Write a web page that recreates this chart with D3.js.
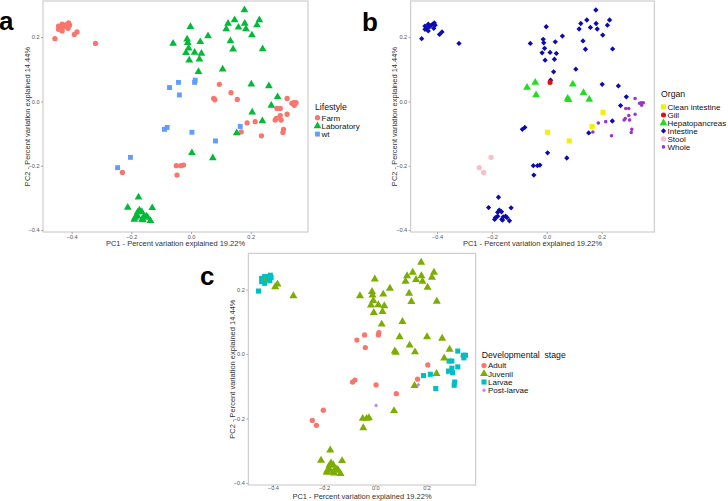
<!DOCTYPE html>
<html><head><meta charset="utf-8">
<script src="https://cdn.jsdelivr.net/npm/d3@7"></script>
<style>body{margin:0;background:#fff}svg{display:block;font-family:Arial,"Liberation Sans",sans-serif}</style>
</head><body><svg width="728" height="501"></svg>
<script>
// ---------- DATA (PCA scores, same samples in all three panels) ----------
const pc1 = [
  // Farm, top-left cluster
  -0.456,-0.444,-0.438,-0.432,-0.427,-0.421,-0.415,-0.410,-0.407,-0.412,-0.432,-0.444,-0.391,-0.382,-0.320,
  // Farm, hepatopancreas
  0.095,0.134,0.076,0.080,0.155,
  // Farm, lower middle
  -0.049,-0.034,-0.025,-0.047,
  // Farm, stool
  -0.230,
  // Farm, right cluster (whole)
  0.322,0.338,0.346,0.352,0.344,0.288,0.299,0.322,0.299,0.282,0.286,0.302,0.188,0.215,0.168,0.236,0.310,0.308,
  // Laboratory, upper group
  0.179,0.146,0.124,0.118,0.159,0.180,0.184,0.229,0.221,0.204,0.132,0.141,0.240,0.057,-0.002,-0.013,-0.011,-0.060,0.031,-0.008,-0.017,0.012,0.035,-0.006,0.028,0.025,0.106,
  // Laboratory, middle
  0.202,0.261,0.290,0.269,0.205,0.239,0.153,0.003,0.073,
  // Laboratory, bottom cluster
  -0.176,-0.212,-0.130,-0.173,-0.165,-0.179,-0.179,-0.187,-0.190,-0.164,-0.159,-0.150,-0.145,-0.136,-0.161,
  // wt
  -0.072,-0.042,-0.039,0.014,0.012,-0.089,-0.080,0.003,0.082,0.165,-0.203,-0.246
];
const pc2 = [
  0.195,0.234,0.227,0.240,0.232,0.237,0.240,0.244,0.237,0.227,0.219,0.224,0.208,0.216,0.180,
  0.053,0.027,0.009,0.005,0.006,
  -0.200,-0.200,-0.198,-0.229,
  -0.221,
  0.009,-0.006,-0.012,-0.004,-0.004,-0.022,-0.022,-0.040,-0.044,-0.058,-0.053,-0.058,-0.067,-0.063,-0.095,-0.107,-0.087,-0.097,
  0.284,0.253,0.242,0.225,0.230,0.242,0.225,0.253,0.237,0.206,0.188,0.162,0.163,0.203,0.232,0.193,0.182,0.180,0.185,0.165,0.151,0.152,0.149,0.128,0.131,0.092,0.100,
  0.053,0.048,0.014,-0.013,-0.034,-0.061,-0.098,-0.160,-0.176,
  -0.298,-0.330,-0.331,-0.338,-0.343,-0.345,-0.357,-0.361,-0.367,-0.367,-0.359,-0.357,-0.361,-0.371,-0.369,
  0.043,0.059,0.020,0.066,0.059,-0.087,-0.081,-0.096,-0.123,-0.078,-0.174,-0.206
];
const F="Farm", LB="Laboratory", W="wt";
const lifestyle = [
  F,F,F,F,F,F,F,F,F,F,F,F,F,F,F,
  F,F,F,F,F,
  F,F,F,F,
  F,
  F,F,F,F,F,F,F,F,F,F,F,F,F,F,F,F,F,F,
  LB,LB,LB,LB,LB,LB,LB,LB,LB,LB,LB,LB,LB,LB,LB,LB,LB,LB,LB,LB,LB,LB,LB,LB,LB,LB,LB,
  LB,LB,LB,LB,LB,LB,LB,LB,LB,
  LB,LB,LB,LB,LB,LB,LB,LB,LB,LB,LB,LB,LB,LB,LB,
  W,W,W,W,W,W,W,W,W,W,W,W
];
const CI="Clean intestine", GI="Gill", HE="Hepatopancreas", IN="Intestine", ST="Stool", WH="Whole";
const organ = [
  IN,IN,IN,IN,IN,IN,IN,IN,IN,IN,IN,IN,IN,IN,IN,
  HE,HE,HE,HE,HE,
  IN,IN,IN,IN,
  ST,
  WH,WH,WH,WH,WH,WH,WH,WH,WH,WH,WH,WH,WH,WH,WH,WH,WH,WH,
  IN,IN,IN,IN,IN,IN,IN,IN,IN,IN,IN,IN,IN,IN,IN,IN,IN,IN,IN,IN,IN,IN,IN,IN,IN,IN,IN,
  IN,IN,IN,IN,CI,IN,IN,IN,IN,
  IN,IN,IN,IN,IN,IN,IN,IN,IN,IN,IN,IN,IN,IN,IN,
  HE,HE,HE,IN,GI,IN,IN,CI,CI,CI,ST,ST
];
const A="Adult", J="Juvenil", L="Larvae", P="Post-larvae";
const stage = [
  L,L,L,L,J,L,L,L,L,L,L,L,J,J,J,
  J,J,J,J,J,
  J,J,J,J,
  A,
  L,P,L,L,L,L,L,L,L,P,L,L,L,L,P,L,L,L,
  J,J,J,J,J,J,J,J,J,J,J,J,J,J,J,J,J,J,J,J,J,J,J,J,J,J,J,
  J,J,J,J,A,J,J,P,J,
  J,J,J,J,J,J,J,J,J,J,J,J,J,J,J,
  A,A,A,A,A,A,A,A,A,A,A,A
];
const lifestyleCats = ["Farm","Laboratory","wt"];
const organCats = ["Clean intestine","Gill","Hepatopancreas","Intestine","Stool","Whole"];
const stageCats = ["Adult","Juvenil","Larvae","Post-larvae"];
const xTicks = [-0.4,-0.2,0.0,0.2];
const yTicks = [-0.4,-0.2,0.0,0.2];
const xTitle = "PC1 - Percent variation explained 19.22%";
const yTitle = "PC2 - Percent variation explained 14.44%";

// ---------- STYLE ----------
const svg = d3.select("svg");
const xDom = [-0.496, 0.392], yDom = [-0.406, 0.312];

function symPath(shape, size){
  if(shape==="triangle") return d3.symbol(d3.symbolTriangle, size)();
  if(shape==="square" || shape==="diamond") return d3.symbol(d3.symbolSquare, size)();
  return d3.symbol(d3.symbolCircle, size)();
}
function symRot(shape){ return shape==="diamond" ? " rotate(45)" : ""; }

const panels = [
  { key: lifestyle, cats: lifestyleCats, title: "Lifestyle", letter: "a",
    colors: ["#F8766D","#00BA38","#619CFF"],
    shapes: ["circle","triangle","square"], sizes: [22,26,24],
    xr: [43,308], yr: [232,1], letterPos: [-1,30], yTitleX: 29.5, xTitleY: 246.3, xTickY: 238.6,
    leg: {x: 315, titleY: 109.5, y0: 120.5, dy: 8.2, symX: 317.5, textX: 321.5} },
  { key: organ, cats: organCats, title: "Organ", letter: "b",
    colors: ["#F2F200","#E01010","#22DD22","#0B0BB0","#F8C0CB","#9A35CC"],
    shapes: ["square","circle","triangle","diamond","circle","circle"], sizes: [26,20,26,14,22,10],
    xr: [410.7,654.3], yr: [232,1], letterPos: [362,30.5], yTitleX: 397, xTitleY: 246.3, xTickY: 238.6,
    leg: {x: 661, titleY: 97, y0: 109.7, dy: 8, symX: 663.5, textX: 667.5} },
  { key: stage, cats: stageCats, title: "Developmental  stage", letter: "c",
    colors: ["#F8766D","#7CAE00","#00BFC4","#C77CFF"],
    shapes: ["circle","triangle","square","diamond"], sizes: [22,28,26,8],
    xr: [248.3,475.7], yr: [485,253.3], letterPos: [200,285], yTitleX: 235, xTitleY: 499, xTickY: 490.3,
    leg: {x: 481.7, titleY: 357.5, y0: 368.4, dy: 8.2, symX: 484, textX: 488} }
];

panels.forEach(p => {
  const x = d3.scaleLinear().domain(xDom).range(p.xr);
  const y = d3.scaleLinear().domain(yDom).range(p.yr);
  const color = d3.scaleOrdinal().domain(p.cats).range(p.colors);
  const g = svg.append("g");

  // panel border
  g.append("rect").attr("x", p.xr[0]).attr("y", p.yr[1])
    .attr("width", p.xr[1]-p.xr[0]).attr("height", p.yr[0]-p.yr[1])
    .attr("fill","#fff").attr("stroke","#c4c4c4").attr("stroke-width",1);

  // axes
  const xa = g.append("g").attr("transform",`translate(0,${p.yr[0]})`)
    .call(d3.axisBottom(x).tickValues(xTicks).tickFormat(d3.format(".1f")).tickSize(2).tickPadding(1.5));
  const ya = g.append("g").attr("transform",`translate(${p.xr[0]},0)`)
    .call(d3.axisLeft(y).tickValues(yTicks).tickFormat(d3.format(".1f")).tickSize(2).tickPadding(1.5));
  [xa, ya].forEach(a => {
    a.select(".domain").remove();
    a.selectAll(".tick line").attr("stroke","#aaa");
    a.selectAll(".tick text").attr("fill","#555").style("font-size","5.6px").style("font-family","Arial, 'Liberation Sans', sans-serif");
  });
  xa.selectAll(".tick text").attr("dy", null).attr("y", p.xTickY - p.yr[0]);

  // points
  const idx = d3.range(pc1.length);
  g.append("g").selectAll("path").data(idx).join("path")
    .attr("d", i => { const k = p.cats.indexOf(p.key[i]); return symPath(p.shapes[k], p.sizes[k]); })
    .attr("transform", i => { const k = p.cats.indexOf(p.key[i]); return `translate(${x(pc1[i])},${y(pc2[i])})${symRot(p.shapes[k])}`; })
    .attr("fill", i => color(p.key[i]));

  // axis titles
  g.append("text").attr("x", (p.xr[0]+p.xr[1])/2).attr("y", p.xTitleY)
    .attr("text-anchor","middle").attr("fill","#333").style("font-size","7.5px").text(xTitle);
  g.append("text").attr("transform",`translate(${p.yTitleX},${(p.yr[0]+p.yr[1])/2}) rotate(-90)`)
    .attr("text-anchor","middle").attr("fill","#333").style("font-size","7.5px").text(yTitle);

  // panel letter
  g.append("text").attr("x", p.letterPos[0]).attr("y", p.letterPos[1])
    .attr("fill","#000").style("font-size","26px").style("font-weight","bold").text(p.letter);

  // legend
  const lg = g.append("g");
  lg.append("text").attr("x", p.leg.x).attr("y", p.leg.titleY).attr("fill","#111")
    .style("font-size","8.7px").style("white-space","pre").attr("xml:space","preserve").text(p.title);
  p.cats.forEach((c, k) => {
    const yy = p.leg.y0 + k*p.leg.dy;
    lg.append("path").attr("d", symPath(p.shapes[k], p.sizes[k]))
      .attr("transform", `translate(${p.leg.symX},${yy-2.8})${symRot(p.shapes[k])}`)
      .attr("fill", p.colors[k]);
    lg.append("text").attr("x", p.leg.textX).attr("y", yy).attr("fill","#111")
      .style("font-size","8px").text(c);
  });
});
</script></body></html>
